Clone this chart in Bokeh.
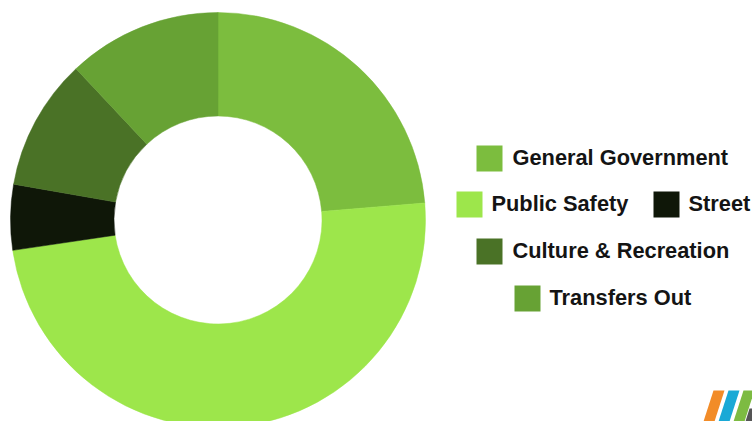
import math
from bokeh.plotting import figure
from bokeh.models import Range1d, ColumnDataSource
from bokeh.embed import file_html
from bokeh.resources import INLINE
from bokeh.core.properties import value

categories = ["General Government", "Public Safety", "Street", "Culture & Recreation", "Transfers Out"]
shares = [23.7, 49.0, 5.1, 10.25, 12.0]
colors = ["#7cbd3e", "#9de64b", "#0f1708", "#4a7226", "#67a234"]

W, H = 752, 421
p = figure(width=W, height=H, output_backend="svg", toolbar_location=None,
           x_range=Range1d(0, W), y_range=Range1d(0, H), min_border=0,
           background_fill_color="white", border_fill_color="white")
p.axis.visible = False
p.grid.visible = False
p.outline_line_color = None

cx, cy = 217.5, H - 219.5
total = sum(shares)
starts, ends = [], []
cum = 0.0
for s in shares:
    a0 = cum / total * 2 * math.pi
    cum += s
    a1 = cum / total * 2 * math.pi
    # clockwise from 12 o'clock
    starts.append(math.pi / 2 - a1)
    ends.append(math.pi / 2 - a0)

src = ColumnDataSource(dict(start=starts, end=ends, color=colors, cat=categories))
p.annular_wedge(x=cx, y=cy, inner_radius=104, outer_radius=207.5,
                start_angle="start", end_angle="end", fill_color="color",
                line_color="color", line_width=0.5, source=src)

# Legend (manual layout)
sw_x = [489, 469, 666, 489, 527]
sw_y = [158, 204, 204, 251, 298]
tx_x = [512, 491, 688, 512, 549]
p.rect(x=sw_x, y=[H - v for v in sw_y], width=26, height=26, fill_color=colors, line_color=None)
p.text(x=tx_x, y=[H - v + 1 for v in sw_y], text=categories,
       text_font=value("Liberation Sans"), text_font_style="bold", text_font_size="21.8px",
       text_color="#141414", text_baseline="middle", text_align="left")

# Decorative logo stripes bottom-right
logo_x = [[703, 713, 724, 714], [718, 728, 739, 729], [733, 743, 754, 744], [745, 749, 760, 756]]
logo_y = [[421, 390, 390, 421], [421, 390, 390, 421], [421, 390, 390, 421], [421, 408, 408, 421]]
logo_c = ["#f28c28", "#1aa9d6", "#7dbb42", "#555555"]
p.patches(xs=logo_x, ys=[[H - v for v in ys] for ys in logo_y], fill_color=logo_c, line_color=None)

open("out.html", "w").write(file_html(p, INLINE))
